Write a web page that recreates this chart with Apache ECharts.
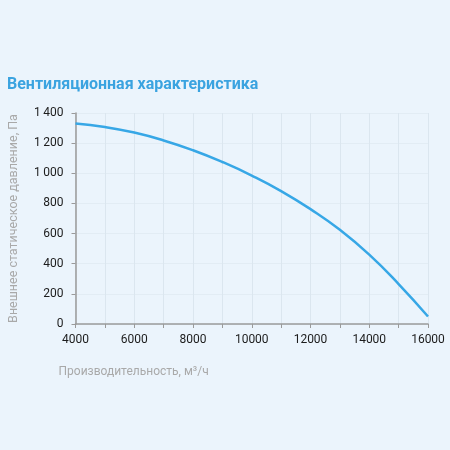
<!DOCTYPE html>
<html><head><meta charset="utf-8">
<script src="https://cdn.jsdelivr.net/npm/echarts@6/dist/echarts.min.js"></script>
<style>html,body{margin:0;padding:0;background:#ebf4fc;}#c{width:450px;height:450px;}</style>
</head><body><div id="c"></div>
<script>
var flow = [4000,5000,6000,7000,8000,9000,10000,11000,12000,13000,14000,15000,16000];
var pressure = [1330,1307,1270,1218,1153,1075,985,882,762,625,460,265,50];
var titleText = 'Вентиляционная характеристика';
var xName = 'Производительность, м³/ч';
var yName = 'Внешнее статическое давление, Па';
var chart = echarts.init(document.getElementById('c'));
chart.setOption({
  backgroundColor:'#ebf4fc',
  animation:false,
  title:{text:titleText,left:2,top:72,textStyle:{color:'#3aa3e0',fontSize:16,fontWeight:'bold',fontFamily:'Roboto'}},
  grid:{left:75.5,right:22,top:113,bottom:126,containLabel:false,outerBoundsMode:'none'},
  xAxis:{type:'value',min:4000,max:16000,interval:1000,
    name:xName,nameLocation:'start',nameGap:0,
    nameTextStyle:{color:'#a9a9a9',fontSize:12,fontFamily:'Roboto',align:'left',verticalAlign:'top',padding:[42,0,0,-17]},
    axisLine:{show:true,lineStyle:{color:'#9a9a9a',width:1.5}},
    axisTick:{show:true,length:4,lineStyle:{color:'#9a9a9a'}},
    axisLabel:{color:'#1c1c1c',fontSize:12,fontFamily:'Roboto',margin:10,formatter:function(v){return v%2000===0?String(v):'';}},
    splitLine:{show:true,lineStyle:{color:'#dbe6ef',width:1}}
  },
  yAxis:{type:'value',min:0,max:1400,interval:200,
    name:yName,nameLocation:'middle',nameGap:55,nameMoveOverlap:false,
    nameTextStyle:{color:'#a9a9a9',fontSize:12.5,fontFamily:'Roboto'},
    axisLine:{show:true,lineStyle:{color:'#9a9a9a',width:1.5}},
    axisTick:{show:true,length:4,lineStyle:{color:'#9a9a9a'}},
    axisLabel:{color:'#1c1c1c',fontSize:12,fontFamily:'Roboto',margin:12,formatter:function(v){return v>=1000?(Math.floor(v/1000)+'\u2009'+String(v%1000).padStart(3,'0')):String(v);}},
    splitLine:{show:true,lineStyle:{color:'#e2ecf4',width:1}}
  },
  series:[{type:'line',smooth:true,showSymbol:false,data:flow.map(function(x,i){return [x,pressure[i]];}),
    lineStyle:{color:'#37a7e6',width:2.5}}]
});
</script></body></html>
